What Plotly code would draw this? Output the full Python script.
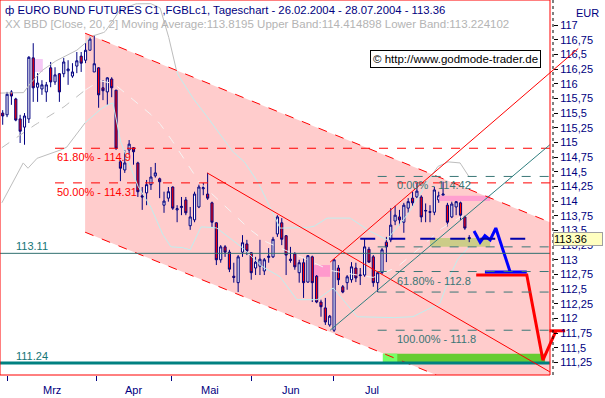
import plotly.graph_objects as go

# ---------------- data ----------------
idx = list(range(108))
opens = [115.50,115.47,115.86,115.74,115.40,115.26,115.40,116.44,115.94,115.91,115.86,116.27,116.03,116.17,116.17,116.22,116.13,116.30,116.47,116.40,
         116.57,116.20,116.27,115.93,115.86,116.08,115.89,114.67,114.53,114.87,114.91,114.65,114.09,114.14,114.28,114.43,114.38,113.93,114.05,114.24,
         113.85,113.89,114.02,113.58,113.68,113.90,114.21,114.12,113.97,113.63,113.00,113.22,113.13,112.72,112.61,113.13,113.27,113.12,112.86,112.89,
         112.81,113.04,113.05,113.44,113.63,113.41,113.01,113.10,112.78,112.95,112.62,113.05,112.72,112.28,112.18,111.89,111.80,112.86,112.54,112.61,
         112.66,112.86,112.73,112.74,113.18,113.05,112.61,112.78,113.30,113.34,113.66,113.73,113.64,113.88,114.05,114.07,114.07,113.83,113.82,113.81,
         114.02,114.10,113.93,113.73,113.90,113.97,113.73,113.38]
highs = [115.55,115.86,115.89,115.76,115.47,115.50,116.47,116.69,116.18,116.06,116.03,116.37,116.28,116.18,116.44,116.40,116.35,116.54,116.54,116.69,
         116.80,116.83,116.28,116.06,116.11,116.11,115.89,114.70,114.87,115.04,114.92,114.67,114.24,114.36,114.58,114.65,114.40,114.16,114.24,114.25,
         113.93,114.07,114.07,113.90,114.16,114.28,114.31,114.48,113.99,113.64,113.25,113.25,113.17,112.95,113.08,113.42,113.34,113.13,113.05,113.34,
         113.03,113.20,113.39,113.76,113.71,113.42,113.22,113.13,113.00,113.03,113.08,113.07,112.74,112.32,112.35,112.06,113.01,112.91,112.57,112.74,
         112.96,112.95,112.86,113.37,113.22,113.08,112.79,113.20,113.39,113.88,113.92,113.85,113.97,114.05,114.16,114.31,114.10,113.96,113.93,114.24,
         114.16,114.33,113.97,113.99,114.02,113.99,113.75,113.42]
lows = [115.30,115.43,115.64,115.36,114.99,114.96,115.33,115.69,115.69,115.81,115.69,115.94,115.98,115.69,116.11,115.98,116.10,116.18,116.20,116.35,
        116.57,116.20,115.59,115.72,115.64,115.77,114.87,114.34,114.48,114.79,114.62,114.07,113.85,113.93,114.19,114.40,114.05,113.80,113.99,113.85,
        113.64,113.76,113.76,113.51,113.64,113.88,114.10,114.02,113.56,112.91,112.95,113.05,112.79,112.61,112.45,113.05,113.08,112.66,112.74,112.74,
        112.74,112.95,113.03,113.39,113.25,112.74,112.95,112.83,112.61,112.35,112.61,112.28,112.26,112.03,111.89,111.86,111.77,112.57,112.43,112.49,
        112.61,112.62,112.57,112.71,112.95,112.54,112.45,112.76,112.96,113.30,113.59,113.59,113.46,113.80,113.90,114.05,113.64,113.64,113.64,113.76,
        113.97,114.05,113.57,113.71,113.76,113.68,113.51,113.30]
closes = [115.45,115.82,115.79,115.38,115.19,115.45,116.45,115.93,116.01,115.98,115.98,116.03,116.15,115.86,116.37,116.25,116.20,116.39,116.35,116.57,
          116.76,116.34,115.81,115.88,116.10,115.93,114.90,114.56,114.65,114.97,114.84,114.16,114.07,114.28,114.41,114.48,114.33,114.00,114.16,113.88,
          113.87,113.91,113.80,113.73,114.12,114.24,114.23,114.05,113.64,113.00,113.22,113.13,112.84,112.70,113.05,113.29,113.15,112.78,112.96,113.01,
          113.00,113.06,113.35,113.73,113.35,113.08,112.99,112.88,112.95,112.61,113.07,112.61,112.28,112.20,111.94,112.04,113.00,112.66,112.45,112.71,
          112.88,112.69,112.74,113.22,112.96,112.61,112.78,113.17,113.22,113.59,113.76,113.68,113.93,113.99,113.97,114.17,113.73,113.84,113.81,114.19,
          114.09,114.12,113.64,113.95,113.99,113.76,113.54,113.36]

# Bollinger (20,2) lines
bb_up_x = [-0.6,4.7,5.6,8.6,11.3,14.7,17.0,18.9,20.0,21.6,23.4,25.1,26.9,30.3,33.8,36.1,37.7,40.0,43.0,45.3,48.7,52.8,55.1,58.3,61.3,63.6,68.2,71.2,74.4,79.7,83.6,88.1,92.3,95.7,99.6,101.9,104.9,107]
bb_up_y = [115.84,115.84,115.94,116.20,116.35,116.49,116.57,116.69,116.80,116.83,116.88,117.05,117.26,117.36,117.37,117.29,116.91,116.18,115.81,115.60,115.25,114.84,114.70,114.36,113.90,113.54,113.54,113.56,113.71,113.71,113.51,113.34,113.71,114.10,114.58,114.67,114.65,114.41]
bb_lo_x = [-0.2,4.7,5.8,7.9,12.5,14.7,18.4,21.6,23.9,25.3,26.2,26.9,28.7,30.8,33.8,36.1,38.4,40.7,43.0,45.3,47.5,49.1,54.4,59.0,63.6,67.5,72.1,75.8,81.3,88.1,94.1,100.3,101.9,104.2,107]
bb_lo_y = [113.97,114.65,114.56,114.73,114.84,114.92,115.30,115.52,115.64,115.67,115.30,115.04,114.70,114.28,113.93,113.51,113.22,113.22,113.17,113.56,113.56,113.54,113.25,112.91,112.71,112.32,112.32,112.52,112.03,112.01,112.03,112.26,112.61,113.00,113.22]
bb_mid_x = [-0.2,6.3,13.1,18.9,22.3,25.5,31.5,35.4,37.7,40.7,44.6,50,55,60,65,70,75,80,85,90,95,100,107]
bb_mid_y = [114.91,115.25,115.55,115.89,116.05,116.00,115.64,115.38,115.16,114.82,114.36,113.98,113.62,113.32,113.15,113.00,112.82,112.75,112.70,112.85,113.15,113.50,113.82]

month_labels = ["Mrz", "Apr", "Mai", "Jun", "Jul"]
month_tick_pos = [1.2, 21.4, 38.6, 57.0, 75.8]
month_label_pos = [11.3, 29.9, 47.5, 66.1, 84.7]

y_ticks = [111.25 + 0.25 * k for k in range(24)]
y_ticktext = [("%g" % v).replace(".", ",") for v in y_ticks]

# drawn levels / lines
fib_red = [114.9, 114.31]
fib_red_labels = ["61.80% - 114.9", "50.00% - 114.31"]
fib_teal = [114.42, 113.22, 112.8, 112.45, 111.8]
fib_teal_labels = {114.42: "0.00% - 114.42", 112.8: "61.80% - 112.8", 111.8: "100.00% - 111.8"}
level_1 = 113.11
level_2 = 111.24
last_price = 113.36

channel_x = [18.9, 125.5]
channel_up = [116.86, 113.64]
channel_lo0 = 113.47
lineA_x = [46.9, 125.5]; lineA_y = [114.48, 111.09]
rise_red_x = [75.1, 132.0]; rise_red_y = [112.96, 116.6]
teal_diag_x = [75.1, 125.5]; teal_diag_y = [111.80, 114.96]
blue_path_x = [108.1, 109.5, 110.6, 111.8, 113.1, 116.4]
blue_path_y = [113.49, 113.30, 113.41, 113.34, 113.54, 112.79]
blue_flat_x = [110.6, 120.2]; blue_flat_y = 112.79
red_path_x = [108.6, 120.2, 123.9, 126.9]
red_path_y = [112.74, 112.74, 111.29, 111.79]
red_cap_x = [125.4, 129.0]; red_cap_y = 111.79

# ---------------- figure ----------------
W, H = 605, 398
PLOT_H = 375
X0, X1 = -0.62, 138.14
Y0, Y1 = 111.037, 117.426
FRAME_R = 125.5
NAVY = "#000080"
TEAL = "#3A7676"
FONT = "Liberation Sans, Arial, sans-serif"

fig = go.Figure()

def py(p):  # paper y from pixel row in the plot area
    return (PLOT_H - p) / PLOT_H

slope = (channel_up[1] - channel_up[0]) / (channel_x[1] - channel_x[0])
x_hit = channel_x[0] + (Y0 - channel_lo0) / slope

def in_channel(x, y):
    if x < channel_x[0]:
        return False
    up = channel_up[0] + slope * (x - channel_x[0])
    lo = channel_lo0 + slope * (x - channel_x[0])
    return lo <= y <= up

def add_band(xs, ys, col_out, col_in, dash=None):
    runs = []
    for k in range(len(xs) - 1):
        n = 12
        for s in range(n):
            xa = xs[k] + (xs[k + 1] - xs[k]) * s / n
            ya = ys[k] + (ys[k + 1] - ys[k]) * s / n
            xb = xs[k] + (xs[k + 1] - xs[k]) * (s + 1) / n
            yb = ys[k] + (ys[k + 1] - ys[k]) * (s + 1) / n
            st = in_channel((xa + xb) / 2, (ya + yb) / 2)
            if runs and runs[-1][0] == st:
                runs[-1][1].append((xb, yb))
            else:
                runs.append([st, [(xa, ya), (xb, yb)]])
    for st, pts in runs:
        fig.add_trace(go.Scatter(x=[p[0] for p in pts], y=[p[1] for p in pts], mode="lines",
                                 line=dict(color=col_in if st else col_out, width=1, dash=dash),
                                 hoverinfo="skip", showlegend=False))

shapes = []
path = (f"M {channel_x[0]},{channel_up[0]} L {channel_x[1]},{channel_up[1]} L {channel_x[1]},{Y0} "
        f"L {x_hit},{Y0} L {channel_x[0]},{channel_lo0} Z")
shapes.append(dict(type="path", path=path, fillcolor="#FFCCCC", line=dict(width=0), layer="below"))
shapes.append(dict(type="rect", x0=87.2, x1=124.4, y0=111.24, y1=111.40, fillcolor="#66CC33", line=dict(width=0), layer="below"))
shapes.append(dict(type="rect", x0=87.2, x1=90.5, y0=111.24, y1=111.40, fillcolor="#77FF66", line=dict(width=0), layer="below"))
shapes.append(dict(type="rect", x0=6.95, x1=9.2, y0=116.20, y1=116.42, fillcolor="#F5C8F5", line=dict(width=0), layer="below"))
shapes.append(dict(type="rect", x0=71.0, x1=75.1, y0=112.71, y1=112.91, fillcolor="#FF99CC", line=dict(width=0), layer="below"))
shapes.append(dict(type="rect", x0=98.0, x1=111.8, y0=113.22, y1=113.37, fillcolor="#CCCC88", line=dict(width=0), layer="below"))
shapes.append(dict(type="rect", x0=100.1, x1=111.8, y0=114.00, y1=114.09, fillcolor="#FF9FD0", line=dict(width=0), layer="above"))

shapes.append(dict(type="line", x0=channel_x[0], y0=channel_up[0], x1=channel_x[1], y1=channel_up[1], line=dict(color="red", width=1, dash="dash")))
shapes.append(dict(type="line", x0=channel_x[0], y0=channel_lo0, x1=x_hit, y1=Y0, line=dict(color="red", width=1, dash="dash")))
for v in fib_red:
    shapes.append(dict(type="line", x0=12.0, x1=FRAME_R, y0=v, y1=v, line=dict(color="red", width=1, dash="dash")))
for v in fib_teal:
    shapes.append(dict(type="line", x0=86.0, x1=FRAME_R, y0=v, y1=v, line=dict(color=TEAL, width=1, dash="dash")))
shapes.append(dict(type="line", x0=X0, x1=FRAME_R, y0=level_1, y1=level_1, line=dict(color="#2F6F6F", width=1)))
shapes.append(dict(type="line", x0=X0, x1=FRAME_R, y0=level_2, y1=level_2, line=dict(color="#008080", width=3)))
shapes.append(dict(type="line", x0=lineA_x[0], y0=lineA_y[0], x1=lineA_x[1], y1=lineA_y[1], line=dict(color="red", width=1)))
shapes.append(dict(type="line", x0=rise_red_x[0], y0=rise_red_y[0], x1=rise_red_x[1], y1=rise_red_y[1], line=dict(color="red", width=1)))
shapes.append(dict(type="line", x0=teal_diag_x[0], y0=teal_diag_y[0], x1=teal_diag_x[1], y1=teal_diag_y[1], line=dict(color="#2F7F7F", width=1)))
shapes.append(dict(type="line", x0=82.0, x1=123.2, y0=last_price, y1=last_price, line=dict(color="#0000AA", width=2, dash="longdash")))

FR = 550 / W
for s in [dict(x0=0, x1=FR, y0=1, y1=1), dict(x0=0, x1=FR, y0=0, y1=0), dict(x0=0, x1=0, y0=0, y1=1), dict(x0=FR, x1=FR, y0=0, y1=1)]:
    shapes.append(dict(type="line", xref="paper", yref="paper", line=dict(color="red", width=1), **s))
AX = 553 / W
shapes.append(dict(type="line", xref="paper", yref="paper", x0=AX, x1=AX, y0=0, y1=1, line=dict(color="black", width=1, dash="dot")))

add_band(bb_up_x, bb_up_y, "#BDBDBD", "#BFEFEF")
add_band(bb_lo_x, bb_lo_y, "#BDBDBD", "#BFEFEF")
add_band(bb_mid_x, bb_mid_y, "#BDBDBD", "#F4F4F4", dash="dash")

fig.add_trace(go.Candlestick(
    x=idx, open=opens, high=highs, low=lows, close=closes,
    increasing=dict(line=dict(color=NAVY, width=1), fillcolor="white"),
    decreasing=dict(line=dict(color=NAVY, width=1), fillcolor="#FF0000"),
    whiskerwidth=0, showlegend=False, hoverinfo="skip"))

fig.add_trace(go.Scatter(x=red_path_x, y=red_path_y, mode="lines", line=dict(color="red", width=3), hoverinfo="skip", showlegend=False))
fig.add_trace(go.Scatter(x=red_cap_x, y=[red_cap_y] * 2, mode="lines", line=dict(color="red", width=3), hoverinfo="skip", showlegend=False))
fig.add_trace(go.Scatter(x=blue_flat_x, y=[blue_flat_y] * 2, mode="lines", line=dict(color="blue", width=3), hoverinfo="skip", showlegend=False))
fig.add_trace(go.Scatter(x=blue_path_x, y=blue_path_y, mode="lines", line=dict(color="blue", width=3), hoverinfo="skip", showlegend=False))

ann = []
ann.append(dict(xref="paper", yref="paper", x=3 / W, y=py(10), xanchor="left", yanchor="middle", showarrow=False,
                text="ф EURO BUND FUTURES C1 ,FGBLc1, Tageschart - 26.02.2004 - 28.07.2004 - 113.36",
                font=dict(family=FONT, size=11.3, color=NAVY)))
ann.append(dict(xref="paper", yref="paper", x=3 / W, y=py(24), xanchor="left", yanchor="middle", showarrow=False,
                text="XX BBD [Close, 20, 2] Moving Average:113.8195 Upper Band:114.414898 Lower Band:113.224102",
                font=dict(family=FONT, size=11.5, color="#B4B4B4")))
ann.append(dict(xref="paper", yref="paper", x=587 / W, y=py(13), xanchor="center", yanchor="middle", showarrow=False,
                text="EUR", font=dict(family=FONT, size=11, color=NAVY)))
ann.append(dict(xref="paper", yref="paper", x=455 / W, y=py(59), xanchor="center", yanchor="middle", showarrow=False,
                text="© http://www.godmode-trader.de", font=dict(family=FONT, size=11.5, color="black"),
                bgcolor="white", bordercolor="black", borderwidth=1, borderpad=2))
for v, t in zip(fib_red, fib_red_labels):
    ann.append(dict(x=12.0, y=v, yshift=-9, xanchor="left", yanchor="middle", showarrow=False, text=t,
                    font=dict(family=FONT, size=11, color="red")))
for v, t in fib_teal_labels.items():
    ann.append(dict(x=90.0, y=v, yshift=-9, xanchor="left", yanchor="middle", showarrow=False, text=t,
                    font=dict(family=FONT, size=11, color=TEAL)))
for v in (level_1, level_2):
    ann.append(dict(x=2.7, y=v, yshift=7, xanchor="left", yanchor="middle", showarrow=False, text="%.2f" % v,
                    font=dict(family=FONT, size=11, color="#157575")))
ann.append(dict(xref="paper", x=553 / W, y=last_price, xanchor="left", yanchor="middle", showarrow=False,
                text="113.36 ", align="left", width=48, font=dict(family=FONT, size=11, color="black"),
                bgcolor="#FFFFC0", bordercolor="#A0A0A0", borderwidth=1, borderpad=0))
for lab, pos in zip(month_labels, month_label_pos):
    ann.append(dict(x=pos, yref="paper", y=py(390), xanchor="center", yanchor="middle", showarrow=False, text=lab,
                    font=dict(family=FONT, size=11, color=NAVY)))

fig.update_layout(
    width=W, height=H, margin=dict(l=0, r=0, t=0, b=H - PLOT_H),
    paper_bgcolor="white", plot_bgcolor="white", shapes=shapes, annotations=ann,
    xaxis=dict(range=[X0, X1], showgrid=False, zeroline=False, showline=False, rangeslider=dict(visible=False),
               tickmode="array", tickvals=month_tick_pos, ticks="outside", ticklen=5, tickcolor=NAVY, showticklabels=False),
    yaxis=dict(range=[Y0, Y1], showgrid=False, zeroline=False, showline=False, anchor="free", position=AX, side="right",
               tickmode="array", tickvals=y_ticks, ticktext=y_ticktext, ticks="outside", ticklen=4, tickcolor="black",
               tickfont=dict(family=FONT, size=11, color=NAVY)),
    font=dict(family=FONT),
)
fig.write_html("out.html", config={"displayModeBar": False},
               post_script="document.body.style.margin='0';document.body.style.overflow='hidden';")
